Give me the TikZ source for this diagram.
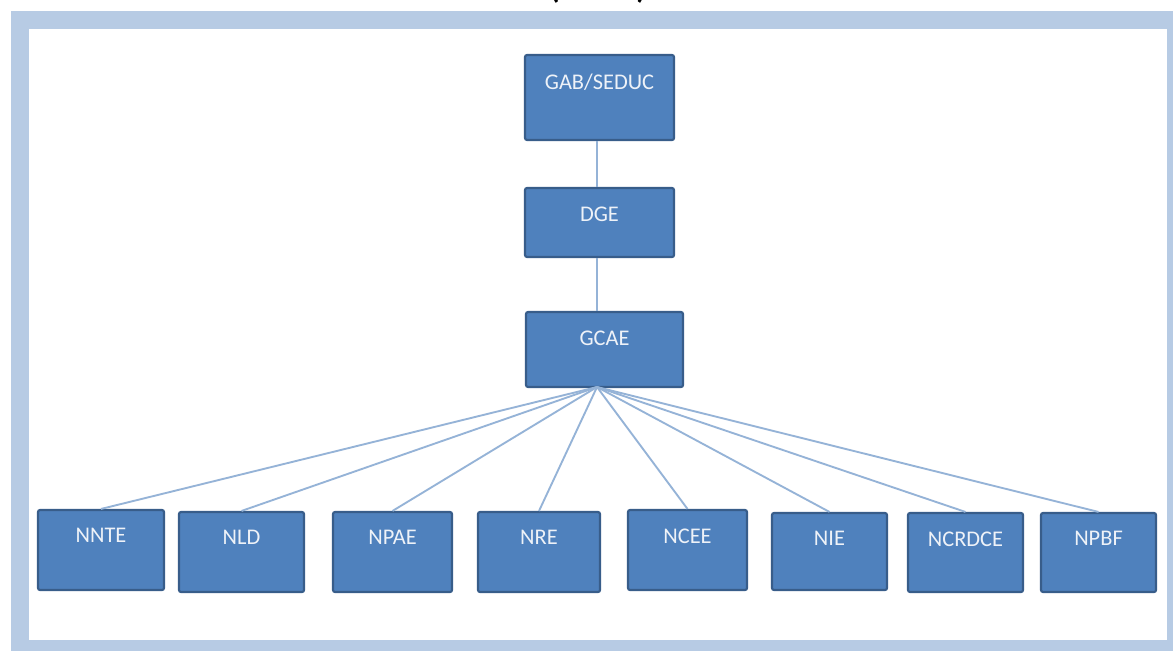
\documentclass[tikz,border=0pt]{standalone}
\usepackage{fontspec}
\setmainfont{Carlito}
\definecolor{boxblue}{HTML}{4F81BD}
\definecolor{boxedge}{HTML}{385D8A}
\definecolor{band}{HTML}{B7CBE4}
\definecolor{linkc}{HTML}{95B3D7}
\definecolor{txt}{HTML}{EEF2F8}
\newcommand\unitbox[6]{\node[unit, minimum width=#4*0.75pt, minimum height=#5*0.75pt, label={[tag]north:#6}] (#1) at (#2,#3) {};}
\begin{document}
\begin{tikzpicture}[x=0.75pt,y=-0.75pt,
 unit/.style={draw=boxedge, fill=boxblue, line width=1.6pt, rounded corners=1.5pt, inner sep=0pt},
 tag/.style={font=\fontsize{16.8}{18}\selectfont, text=txt, inner sep=0pt, anchor=north, yshift=-14.5pt},
 link/.style={draw=linkc, line width=1.4pt},
 heading/.style={font=\bfseries\fontsize{24}{24}\selectfont, anchor=base, inner sep=0pt}]
\useasboundingbox (0,0) rectangle (1173,651);
% frame
\fill[band] (11,11) rectangle (1173,651);
\fill[white] (29,29) rectangle (1167,640);
% partially visible heading
\node[heading] (ttl) at (598,-2) {(\hspace{2.4em})};
% boxes
\unitbox{gab}{599.5}{97.5}{149}{85}{GAB/SEDUC}
\unitbox{dge}{599.5}{222.5}{149}{69}{DGE}
\unitbox{gcae}{604.5}{349.5}{157}{75}{GCAE}
\unitbox{nnte}{101}{550}{126}{80}{NNTE}
\unitbox{nld}{241.5}{552}{125}{80}{NLD}
\unitbox{npae}{392.5}{552}{119}{80}{NPAE}
\unitbox{nre}{539}{552}{122}{80}{NRE}
\unitbox{ncee}{687.5}{550}{119}{80}{NCEE}
\unitbox{nie}{829.5}{551.5}{115}{77}{NIE}
\unitbox{ncrdce}{965.5}{552.5}{115}{79}{NCRDCE}
\unitbox{npbf}{1098.5}{552.5}{115}{79}{NPBF}
% connectors
\coordinate (hub) at (597,387);
\draw[link] (gab.south -| hub) -- (dge.north -| hub);
\draw[link] (dge.south -| hub) -- (gcae.north -| hub);
\foreach \n in {nnte,nld,npae,nre,ncee,nie,ncrdce,npbf}{
  \draw[link] (hub) -- (\n.north);
}
\end{tikzpicture}
\end{document}
